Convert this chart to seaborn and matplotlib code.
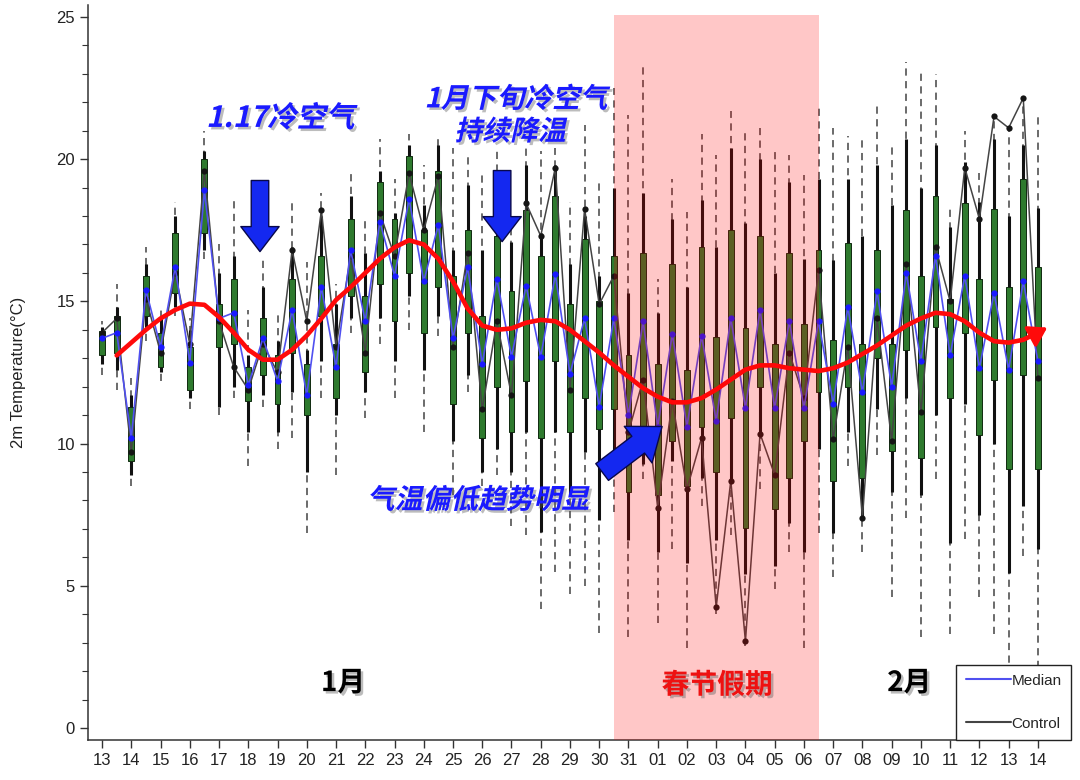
import numpy as np
import pandas as pd
import seaborn as sns
import matplotlib
matplotlib.use('Agg')
import matplotlib.pyplot as plt
from matplotlib import patheffects as pe
from matplotlib.transforms import Affine2D
from matplotlib.lines import Line2D
from matplotlib.patches import Rectangle
from matplotlib.ticker import MultipleLocator

sns.set_theme(style='ticks')
plt.rcParams['font.family'] = ['Liberation Sans', 'Noto Sans CJK SC', 'DejaVu Sans']
CJK = ['Noto Sans CJK SC', 'DejaVu Sans']

# day labels, Jan 13 .. Feb 14
day_labels = ['13', '14', '15', '16', '17', '18', '19', '20', '21', '22', '23', '24',
              '25', '26', '27', '28', '29', '30', '31', '01', '02', '03', '04', '05',
              '06', '07', '08', '09', '10', '11', '12', '13', '14']

# ensemble statistics every 12 h
box_min = [12.4, 11.9, 8.5, 13.6, 12.2, 14.5, 11.2, 16.5, 11.0, 11.6, 9.2, 11.3, 9.8,
           10.2, 6.85, 11.6, 8.9, 13.9, 10.9, 13.5, 11.6, 14.0, 10.4, 13.8, 8.2, 11.8,
           8.5, 8.9, 7.1, 6.8, 4.2, 5.5, 4.7, 5.0, 3.35, 7.6, 3.2, 8.75, 3.7, 6.3, 2.8,
           7.8, 4.0, 6.8, 2.9, 8.4, 4.9, 6.2, 2.8, 6.85, 5.3, 9.2, 6.2, 9.6, 4.6, 7.4,
           3.2, 8.75, 3.3, 6.65, 4.6, 3.3, 1.4, 6.05, 2.1]
box_p10 = [12.8, 12.6, 8.9, 14.1, 12.5, 14.8, 11.6, 16.8, 11.3, 12.0, 10.4, 11.7, 10.4,
           11.8, 9.0, 12.9, 11.0, 14.4, 11.8, 14.4, 12.9, 15.2, 12.6, 14.5, 10.1, 12.4,
           9.0, 9.8, 9.0, 10.4, 6.9, 10.4, 8.2, 9.7, 7.3, 9.7, 6.6, 9.3, 6.2, 9.4, 5.8,
           8.8, 6.6, 8.7, 5.4, 10.2, 5.7, 7.2, 6.2, 9.8, 6.85, 10.4, 7.4, 11.2, 8.3, 11.6,
           8.2, 11.0, 6.5, 11.4, 7.5, 10.0, 5.45, 7.8, 6.3]
box_p25 = [13.1, 13.2, 9.4, 14.5, 12.7, 15.3, 11.9, 17.4, 13.4, 13.5, 11.5, 12.4, 11.4,
           13.2, 11.0, 14.5, 11.6, 15.2, 12.5, 15.6, 14.3, 16.0, 13.9, 15.5, 11.4, 13.9,
           10.2, 12.0, 10.4, 12.2, 10.2, 12.9, 10.4, 11.6, 10.5, 11.2, 8.3, 10.4, 8.2,
           10.1, 8.5, 10.6, 9.0, 10.9, 7.05, 12.0, 7.7, 8.8, 10.1, 11.8, 8.7, 12.0, 8.8,
           13.0, 9.75, 13.3, 9.5, 14.1, 11.6, 13.9, 10.3, 12.25, 9.1, 12.4, 9.1]
box_med = [13.7, 13.9, 10.2, 15.4, 13.4, 16.2, 12.85, 18.9, 14.4, 14.6, 12.05, 13.7, 12.2,
           14.7, 11.7, 15.5, 12.7, 16.8, 14.3, 17.8, 15.9, 18.6, 15.7, 17.7, 13.7, 16.2,
           12.8, 15.8, 13.05, 15.55, 13.05, 15.95, 12.45, 14.4, 11.3, 14.4, 11.0, 14.3,
           10.6, 13.85, 10.6, 13.8, 10.8, 14.4, 11.25, 14.7, 11.25, 14.3, 11.25, 14.3,
           11.4, 14.8, 11.8, 15.35, 12.0, 16.0, 12.9, 16.6, 13.1, 15.9, 12.65, 15.3, 12.6,
           15.7, 12.9]
box_p75 = [13.95, 14.5, 11.3, 15.9, 13.9, 17.4, 13.4, 20.0, 14.9, 15.8, 12.7, 14.4, 13.1,
           15.8, 12.8, 16.6, 13.5, 17.9, 15.2, 19.2, 17.9, 20.1, 17.5, 19.6, 15.9, 17.5,
           14.5, 17.3, 15.35, 18.2, 16.6, 18.7, 14.9, 17.2, 15.0, 16.6, 13.1, 16.7, 12.8,
           16.3, 12.6, 16.9, 13.75, 17.5, 14.05, 17.3, 13.5, 16.7, 14.2, 16.8, 13.65, 17.05,
           13.5, 16.8, 13.5, 18.2, 15.9, 18.7, 15.1, 18.45, 15.8, 18.25, 15.5, 19.3, 16.2]
box_p90 = [14.1, 14.8, 11.7, 16.3, 14.4, 18.0, 14.0, 20.3, 16.0, 16.6, 13.1, 15.5, 13.6,
           16.9, 13.3, 18.0, 14.9, 18.7, 16.7, 19.6, 18.1, 20.5, 18.4, 20.5, 16.8, 19.1,
           16.8, 19.5, 17.1, 19.8, 17.4, 19.8, 16.3, 18.0, 15.9, 19.0, 15.3, 18.8, 14.6,
           17.9, 15.5, 18.55, 16.9, 20.4, 17.75, 20.0, 16.0, 19.2, 16.5, 19.3, 16.45, 19.3,
           17.3, 19.8, 18.4, 20.7, 19.0, 20.5, 17.6, 19.9, 18.5, 20.7, 18.0, 20.5, 18.3]
box_max = [14.3, 15.6, 12.3, 16.9, 14.8, 18.5, 14.4, 21.0, 17.0, 18.6, 14.7, 16.5, 14.7,
           18.6, 16.4, 18.8, 15.6, 19.5, 18.0, 20.7, 19.3, 20.9, 19.8, 20.9, 20.4, 20.1,
           19.5, 20.3, 18.0, 20.5, 20.3, 20.4, 18.5, 21.2, 19.2, 22.5, 21.55, 23.3, 15.8,
           19.3, 18.15, 20.9, 20.15, 21.7, 21.0, 21.1, 20.4, 20.15, 19.45, 21.85, 21.1,
           20.8, 20.7, 22.0, 20.5, 23.4, 23.1, 23.0, 18.4, 21.0, 19.5, 21.5, 21.1, 22.2, 21.5]
control = [13.9, 14.4, 9.7, 15.1, 13.2, 16.0, 13.5, 19.6, 14.3, 12.7, 11.9, 13.5, 12.5,
           16.8, 14.3, 18.2, 13.4, 16.6, 13.2, 18.1, 16.6, 19.5, 17.5, 19.4, 13.4, 16.7,
           11.2, 14.3, 11.7, 18.45, 17.3, 19.7, 11.9, 18.25, 14.9, 15.9, 10.4, 12.25, 7.75,
           11.5, 8.4, 10.2, 4.25, 8.7, 3.05, 10.35, 8.9, 13.2, 11.6, 16.1, 10.15, 13.4, 7.4,
           14.4, 10.1, 16.3, 11.1, 16.9, 15.0, 19.7, 17.9, 21.5, 21.1, 22.15, 12.3]
# hand-drawn trend curve, from the second time step on
trend = [13.1, 13.55, 14.0, 14.4, 14.7, 14.92, 14.88, 14.45, 13.9, 13.3, 12.95, 12.95,
         13.3, 13.8, 14.4, 15.05, 15.5, 16.0, 16.5, 16.9, 17.15, 17.0, 16.5, 15.7, 14.75,
         14.15, 14.0, 14.05, 14.25, 14.35, 14.3, 14.0, 13.6, 13.2, 12.75, 12.35, 11.95,
         11.65, 11.45, 11.45, 11.6, 11.9, 12.25, 12.6, 12.75, 12.75, 12.65, 12.6, 12.55,
         12.65, 12.85, 13.15, 13.45, 13.8, 14.15, 14.4, 14.6, 14.55, 14.3, 13.9, 13.6,
         13.55, 13.65, 13.9]
holiday = (17.5, 24.5)   # Jan 30 12h .. Feb 06 12h

steps = np.arange(len(box_med)) * 0.5
df = pd.DataFrame({'step': steps, 'bmin': box_min, 'p10': box_p10, 'p25': box_p25,
                   'med': box_med, 'p75': box_p75, 'p90': box_p90, 'bmax': box_max,
                   'ctrl': control})
trend_df = pd.DataFrame({'step': steps[1:], 'trend': trend})


class ShadowOblique(pe.AbstractPathEffect):
    """slanted text with a grey drop shadow"""
    def __init__(self, shear=0.0, offset=(1.8, -1.8), shadow=(0.35, 0.35, 0.35, 0.4)):
        super().__init__()
        self.shear = shear
        self.off = offset
        self.shadow = shadow

    def draw_path(self, renderer, gc, tpath, affine, rgbFace=None):
        base = Affine2D().skew(self.shear, 0) + affine
        dx = renderer.points_to_pixels(self.off[0])
        dy = renderer.points_to_pixels(self.off[1])
        gc0 = renderer.new_gc()
        gc0.copy_properties(gc)
        gc0.set_linewidth(0)
        renderer.draw_path(gc0, tpath, base + Affine2D().translate(dx, dy), self.shadow)
        gc0.restore()
        renderer.draw_path(gc, tpath, base, rgbFace)


fig, ax = plt.subplots(figsize=(10.8, 7.8), dpi=100)
fig.subplots_adjust(left=0.0815, right=0.974, bottom=0.0513, top=0.9936)
ylo, yhi = -0.42, 25.42

# boxes
ax.vlines(df['step'], df['bmin'], df['bmax'], colors='#5f5f5f',
          linestyles=(0, (4, 3)), lw=1.3, zorder=1)
ax.vlines(df['step'], df['p10'], df['p90'], colors='#111111', lw=2.2, zorder=2)
ax.bar(df['step'], df['p75'] - df['p25'], bottom=df['p25'], width=0.2,
       color='#2e7a2e', edgecolor='#0f2a0f', lw=0.7, zorder=2.5)

sns.lineplot(data=df, x='step', y='ctrl', ax=ax, color='#444444', lw=1.1,
             marker='o', markersize=4.5, markerfacecolor='#151515',
             markeredgewidth=0, zorder=3)
sns.lineplot(data=df, x='step', y='med', ax=ax, color='#5050f0', lw=1.2,
             marker='o', markersize=4.5, markerfacecolor='#1a1aff',
             markeredgewidth=0, zorder=3.5)
sns.lineplot(data=trend_df, x='step', y='trend', ax=ax, color='#ff0a0a', lw=3.3,
             zorder=4, solid_capstyle='round')
ax.annotate('', xy=(trend_df['step'].iloc[-1] + 0.32, trend[-1] + 0.18),
            xytext=(trend_df['step'].iloc[-1], trend[-1]),
            arrowprops=dict(arrowstyle='-|>,head_length=0.55,head_width=0.35',
                            mutation_scale=20, color='#ff0a0a', lw=2.5,
                            shrinkA=0, shrinkB=0), zorder=4)

# spring festival holiday
ax.add_patch(Rectangle((holiday[0], ylo), holiday[1] - holiday[0], 25.07 - ylo,
                       facecolor=(1, 0, 0, 0.22), edgecolor='none', zorder=5))

# annotations
arrow_kw = dict(arrowstyle='simple,head_length=0.6,head_width=0.92,tail_width=0.42',
                mutation_scale=30, fc='#1428f0', ec='#08084a', lw=1.0,
                shrinkA=0, shrinkB=0)
ax.annotate('', xy=(5.4, 16.75), xytext=(5.4, 19.25), arrowprops=arrow_kw, zorder=6)
ax.annotate('', xy=(13.68, 17.1), xytext=(13.68, 19.6), arrowprops=arrow_kw, zorder=6)
ax.annotate('', xy=(19.15, 10.6), xytext=(17.1, 9.0),
            arrowprops=dict(arrow_kw, mutation_scale=36), zorder=6)

blue_fx = [ShadowOblique(shear=0.22)]
ax.text(6.1, 21.45, '1.17冷空气', ha='center', va='center', fontsize=21,
        fontweight='bold', color='#1a1aff', family=CJK, path_effects=blue_fx, zorder=7)
ax.text(14.15, 22.1, '1月下旬冷空气', ha='center', va='center', fontsize=20,
        fontweight='bold', color='#1a1aff', family=CJK, path_effects=blue_fx, zorder=7)
ax.text(13.95, 20.95, '持续降温', ha='center', va='center', fontsize=20,
        fontweight='bold', color='#1a1aff', family=CJK, path_effects=blue_fx, zorder=7)
ax.text(12.85, 8.0, '气温偏低趋势明显', ha='center', va='center', fontsize=20,
        fontweight='bold', color='#1a1aff', family=CJK, path_effects=blue_fx, zorder=7)

plain_fx = [ShadowOblique(shear=0.0)]
ax.text(8.24, 1.58, '1月', ha='center', va='center', fontsize=20, fontweight='bold',
        color='black', family=CJK, path_effects=plain_fx, zorder=7)
ax.text(21.03, 1.5, '春节假期', ha='center', va='center', fontsize=20, fontweight='bold',
        color='#ee1111', family=CJK, path_effects=plain_fx, zorder=7)
ax.text(27.6, 1.58, '2月', ha='center', va='center', fontsize=20, fontweight='bold',
        color='black', family=CJK, path_effects=plain_fx, zorder=7)

# axes
ax.set_xlim(-0.48, 32.48)
ax.set_ylim(ylo, yhi)
ax.set_xticks(np.arange(len(day_labels)))
ax.set_xticklabels(day_labels, fontsize=12, color='#222222')
ax.set_yticks(range(0, 26, 5))
ax.set_yticklabels([str(v) for v in range(0, 26, 5)], fontsize=12, color='#222222')
ax.yaxis.set_minor_locator(MultipleLocator(1))
ax.tick_params(which='major', length=6, width=1, color='#333333')
ax.tick_params(which='minor', length=4, width=0.8, color='#333333')
ax.set_xlabel('')
ax.set_ylabel('2m Temperature(°C)', fontsize=12, color='#222222', labelpad=22)
sns.despine(ax=ax)
for s in ('left', 'bottom'):
    ax.spines[s].set_color('#333333')
    ax.spines[s].set_linewidth(1.1)

handles = [Line2D([], [], color='#5050f0', lw=1.5), Line2D([], [], color='#444444', lw=1.5)]
leg = ax.legend(handles, ['Median', 'Control'], loc='lower left',
                bbox_to_anchor=(0.901, 0.0), fontsize=11, frameon=True, fancybox=False,
                handlelength=3.0, handletextpad=0.0, labelspacing=1.9, borderpad=0.6,
                borderaxespad=0.0)
leg.get_frame().set_edgecolor('#222222')
leg.get_frame().set_linewidth(1.0)
leg.get_frame().set_alpha(1.0)
leg.set_zorder(8)

fig.savefig('out.png', dpi=100)
